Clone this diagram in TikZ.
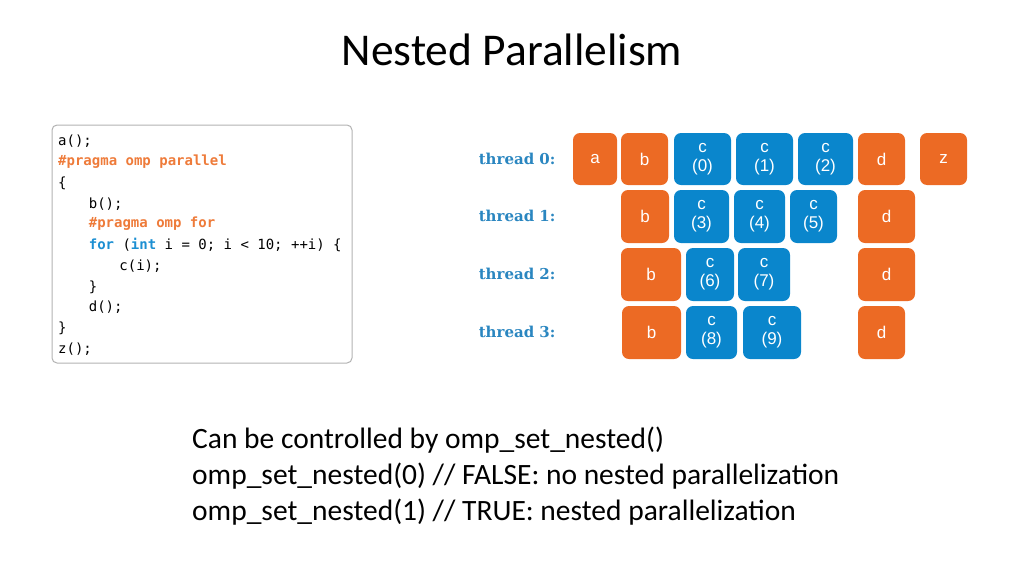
\documentclass[tikz,border=0pt]{standalone}
\usepackage{fontspec}
\setmainfont{Carlito}
\newfontfamily\codefont{DejaVu Sans Mono}
\newfontfamily\labfont{DejaVu Serif}
\newfontfamily\boxfont{Liberation Sans}
\definecolor{orng}{HTML}{EC6A24}
\definecolor{blu}{HTML}{0A86CC}
\definecolor{corng}{HTML}{EE7B3A}
\definecolor{cblu}{HTML}{1C8FD2}
\definecolor{lblu}{HTML}{2A86C0}
\begin{document}
\begin{tikzpicture}[x=1pt,y=-1pt,
  ob/.style={fill=orng,rounded corners=7pt,text=white},
  bb/.style={fill=blu,rounded corners=7pt,text=white},
  lab/.style={text=lblu,font=\labfont\bfseries\fontsize{15}{15}\selectfont,anchor=east},
  cl/.style={anchor=west,font=\codefont\fontsize{14}{14}\selectfont,inner sep=0pt}]
\useasboundingbox (0,0) rectangle (1024,576);
\node (title) at (512,50) {\fontsize{45.5}{50}\selectfont Nested Parallelism};
\draw[gray!60,rounded corners=5pt,line width=1pt] (52,125) rectangle (352,363);
\newcommand\codeln[3]{\node[cl] (cl#1) at (58,#2) {#3};}
\codeln{1}{141}{a();}
\codeln{2}{162}{\textcolor{corng}{\bfseries\#pragma omp parallel}}
\codeln{3}{183}{\{}
\codeln{4}{204}{\hspace*{4ex}b();}
\codeln{5}{224}{\hspace*{4ex}\textcolor{corng}{\bfseries\#pragma omp for}}
\codeln{6}{245}{\hspace*{4ex}\textcolor{cblu}{\bfseries for} (\textcolor{cblu}{\bfseries int} i = 0; i < 10; ++i) \{}
\codeln{7}{266}{\hspace*{8ex}c(i);}
\codeln{8}{287}{\hspace*{4ex}\}}
\codeln{9}{307}{\hspace*{4ex}d();}
\codeln{10}{328}{\}}
\codeln{11}{349}{z();}
\newcommand\bx[7]{\path[#1] (#2,#4) rectangle (#3,#5); \node[text=white,align=center,font=\boxfont\fontsize{17}{19}\selectfont] (#6) at ({(#2+#3)/2},{(#4+#5)/2}) {#7};}
\node[lab] (t0) at (559,159) {thread 0:};
\node[lab] (t1) at (559,216) {thread 1:};
\node[lab] (t2) at (559,274) {thread 2:};
\node[lab] (t3) at (559,332) {thread 3:};
% row 0
\bx{ob}{573}{617}{133}{185}{a0}{a}
\bx{ob}{621}{668}{133}{185}{b0}{b}
\bx{bb}{674}{731}{133}{185}{c0}{c\\(0)}
\bx{bb}{736}{793}{133}{185}{c1}{c\\(1)}
\bx{bb}{798}{853}{133}{185}{c2}{c\\(2)}
\bx{ob}{858}{905}{133}{185}{d0}{d}
\bx{ob}{920}{967}{133}{185}{z0}{z}
% row 1
\bx{ob}{621}{669}{190}{243}{b1}{b}
\bx{bb}{674}{729}{190}{243}{c3}{c\\(3)}
\bx{bb}{734}{785}{190}{243}{c4}{c\\(4)}
\bx{bb}{790}{837}{190}{243}{c5}{c\\(5)}
\bx{ob}{858}{915}{190}{243}{d1}{d}
% row 2
\bx{ob}{621}{681}{248}{301}{b2}{b}
\bx{bb}{686}{734}{248}{301}{c6}{c\\(6)}
\bx{bb}{738}{790}{248}{301}{c7}{c\\(7)}
\bx{ob}{858}{915}{248}{301}{d2}{d}
% row 3
\bx{ob}{622}{681}{306}{359}{b3}{b}
\bx{bb}{686}{737}{306}{359}{c8}{c\\(8)}
\bx{bb}{743}{801}{306}{359}{c9}{c\\(9)}
\bx{ob}{858}{905}{306}{359}{d3}{d}
\node[anchor=west,align=left,font=\fontsize{29.5}{36}\selectfont,inner sep=0pt] (txt) at (192,476) {Can be controlled by omp\_set\_nested()\\omp\_set\_nested(0) // FALSE: no nested parallelization\\omp\_set\_nested(1) // TRUE: nested parallelization};
\end{tikzpicture}
\end{document}
